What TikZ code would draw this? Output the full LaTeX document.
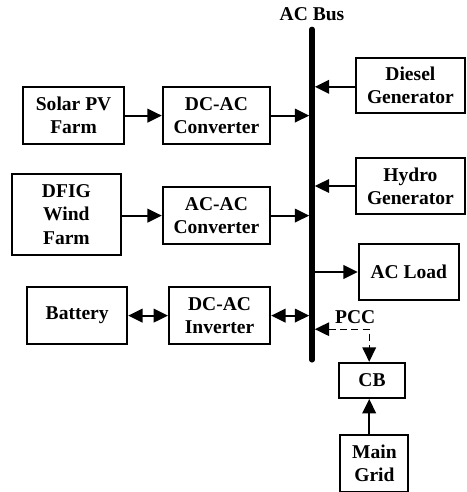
\documentclass[tikz,border=0pt]{standalone}
\usepackage{fontspec}
\setmainfont{Liberation Serif}
\usetikzlibrary{arrows.meta}

\begin{document}
\begin{tikzpicture}[font=\fontsize{13.9}{16.6}\selectfont\bfseries, >={Triangle[length=0.36cm,width=0.34cm]},
          blk/.style={draw, line width=1.4pt, minimum width=2.55cm, minimum height=1.42cm, align=center, inner sep=1pt},
          arr/.style={->, line width=1.4pt},
          darr/.style={<->, line width=1.4pt},
          bus/.style={line width=3.6pt, line cap=round}]
        \useasboundingbox (0,0) rectangle (11.65,-12.3);
        % AC bus
        \coordinate (bt) at (7.8,-0.73);
        \coordinate (bb) at (7.8,-9.0);
        \draw[bus] (bt) -- (bb);
        \node (lbl) at (7.8,-0.35) {AC Bus};
        % sources on the left
        \node[blk, minimum width=2.53cm] (pv) at (1.84,-2.89) {Solar PV\\Farm};
        \node[blk, minimum width=2.68cm] (c1) at (5.41,-2.89) {DC-AC\\Converter};
        \node[blk, minimum width=2.73cm, minimum height=2.03cm] (wind) at (1.66,-5.36) {DFIG\\Wind\\Farm};
        \node[blk, minimum width=2.68cm] (c2) at (5.41,-5.39) {AC-AC\\Converter};
        \node[blk, minimum width=2.5cm] (bat) at (1.93,-7.89) {Battery};
        \node[blk, minimum width=2.53cm] (inv) at (5.49,-7.89) {DC-AC\\Inverter};
        % right side
        \node[blk, minimum width=2.74cm, minimum height=1.38cm] (dg) at (10.26,-2.14) {Diesel\\Generator};
        \node[blk, minimum width=2.74cm] (hg) at (10.26,-4.65) {Hydro\\Generator};
        \node[blk, minimum width=2.5cm] (load) at (10.22,-6.8) {AC Load};
        \node[blk, minimum width=1.63cm, minimum height=0.88cm] (cb) at (9.3,-9.51) {CB};
        \node[blk, minimum width=1.7cm] (grid) at (9.36,-11.59) {Main\\Grid};
        \coordinate (pcc) at (9.23,-8.23);
        \node (pcclbl) at (8.88,-7.92) {PCC};
        % connections
        \draw[arr] (pv) -- (c1);
        \draw[arr] (c1) -- ([xshift=-0.07cm]c1 -| bt);
        \draw[arr] (wind.east |- c2) -- (c2);
        \draw[arr] (c2) -- ([xshift=-0.07cm]c2 -| bt);
        \draw[darr] (bat) -- (inv);
        \draw[darr] (inv) -- ([xshift=-0.07cm]inv -| bt);
        \draw[arr] (dg.west |- 0,-2.17) -- ([xshift=0.07cm]bt |- 0,-2.17);
        \draw[arr] (hg) -- ([xshift=0.07cm]hg -| bt);
        \draw[arr] ([xshift=0.07cm]load -| bt) -- (load);
        \draw[darr, dashed, dash pattern=on 5pt off 3pt, line width=1pt] ([xshift=0.07cm]pcc -| bt) -- (pcc) -- (pcc |- cb.north);
        \draw[arr] (pcc |- grid.north) -- (pcc |- cb.south);
      \end{tikzpicture}
\end{document}
